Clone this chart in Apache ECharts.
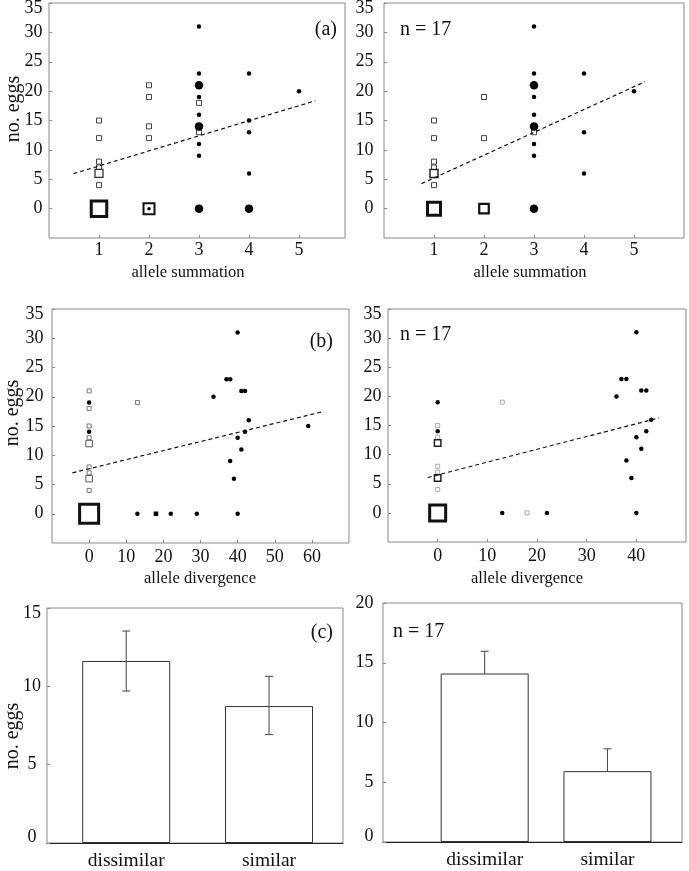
<!DOCTYPE html>
<html><head><meta charset="utf-8">
<script src="https://cdn.jsdelivr.net/npm/echarts@6/dist/echarts.min.js"></script>
<style>html,body{margin:0;padding:0;background:#fff}#c{width:689px;height:871px}</style>
</head><body><div id="c"></div>
<script>
// ---------- (a) left : allele summation, all females ----------
const aL_sqSmall = [[1,15],[1,12],[1,8],[1,7],[1,4],[2,21],[2,19],[2,14],[2,12],[3,18],[3,13]];
const aL_sqMed   = [[1,6]];
const aL_sqMid   = [[2,0]];
const aL_sqLarge = [[1,0]];
const aL_dotTiny = [[2,0]];
const aL_dotSmall= [[3,31],[3,23],[3,19],[3,16],[3,11],[3,9],[4,23],[4,15],[4,13],[4,6],[5,20]];
const aL_dotLarge= [[3,21],[3,14],[3,0],[4,0]];
const aL_fit     = [[0.49,5.95],[5.33,18.37]];
// ---------- (a) right : n = 17 ----------
const aR_sqSmall = [[1,15],[1,12],[1,8],[1,7],[1,4],[2,19],[2,12],[3,13]];
const aR_sqMed   = [[1,6]];
const aR_sqMid   = [[2,0]];
const aR_sqLarge = [[1,0]];
const aR_dotSmall= [[3,31],[3,23],[3,19],[3,16],[3,11],[3,9],[4,23],[4,13],[4,6],[5,20]];
const aR_dotLarge= [[3,21],[3,14],[3,0]];
const aR_fit     = [[0.75,4.25],[5.22,21.6]];
// ---------- (b) left : allele divergence, all females ----------
const bL_sqSmall = [[0,21],[0,18],[0,15],[0,13],[0,8],[0,7],[0,4],[13,19]];
const bL_sqMed   = [[0,12],[0,6]];
const bL_sqLarge = [[0,0]];
const bL_sqFilled= [[18,0]];
const bL_dotSmall= [[0,19],[0,14],[13,0],[22,0],[29,0],[40,0],[33.5,20],[37,23],[38,23],[40,31],[41,21],[42,21],[43,16],[42,14],[40,13],[41,11],[38,9],[39,6],[59,15]];
const bL_fit     = [[-4.5,7.0],[63,17.46]];
// ---------- (b) right : n = 17 ----------
const bR_sqSmall = [[0,15],[0,13],[0,8],[0,7],[0,4],[13,19],[18,0]];
const bR_sqMed   = [[0,12],[0,6]];
const bR_sqLarge = [[0,0]];
const bR_dotSmall= [[0,19],[0,14],[13,0],[22,0],[36,20],[37,23],[38,23],[40,31],[41,21],[42,21],[43,16],[42,14],[40,13],[41,11],[38,9],[39,6],[40,0]];
const bR_fit     = [[-2,6.07],[44.5,16.3]];
// ---------- (c) bars ----------
const categories = ['dissimilar','similar'];
const cL_mean = [11.62, 8.74];
const cL_lo   = [9.70, 6.92];
const cL_hi   = [13.53, 10.64];
const cR_mean = [14.1, 5.93];
const cR_lo   = [12.24, 4.06];
const cR_hi   = [15.96, 7.8];
// tick labels
const yTicksEggs = [0,5,10,15,20,25,30,35];
const xTicksSum  = [1,2,3,4,5];
const xTicksDivL = [0,10,20,30,40,50,60];
const xTicksDivR = [0,10,20,30,40];
const yTicksCL   = [0,5,10,15];
const yTicksCR   = [0,5,10,15,20];

const FF = 'Liberation Serif';
const chart = echarts.init(document.getElementById('c'), null, {renderer:'canvas'});

const grids = [
  {left:49, top:3, width:296, height:235},
  {left:384, top:3, width:300, height:235},
  {left:52, top:309, width:297, height:234},
  {left:388, top:309, width:298, height:233},
  {left:47, top:608, width:296, height:235},
  {left:383, top:603, width:299, height:239}
].map(g => Object.assign({show:true, borderColor:'#8a8a8a', borderWidth:1, backgroundColor:'transparent', outerBoundsMode:'none', containLabel:false}, g));

function richFmt(shifts){
  return v => {
    const s = shifts[v];
    if (!s) return String(v);
    return '{' + (s > 0 ? 'dn' : 'up') + '|' + v + '}';
  };
}
function yAx(idx, min, max, vals, margin, shifts, align, fs){
  fs = fs || 18;
  const base = {fontFamily:FF, fontSize:fs, color:'#111'};
  return {gridIndex:idx, type:'value', min, max,
    axisLine:{show:false, onZero:false}, splitLine:{show:false},
    axisTick:{show:true, inside:true, length:3, lineStyle:{color:'#888'}, customValues:vals},
    axisLabel:Object.assign({customValues:vals, margin, align:align||'right', formatter:richFmt(shifts||{}),
      rich:{dn:Object.assign({padding:[11,0,0,0]},base), up:Object.assign({padding:[0,0,11,0]},base)}}, base)
  };
}
function xAx(idx, min, max, vals, margin, opts){
  opts = opts || {};
  return {gridIndex:idx, type:'value', min, max,
    axisLine:opts.line ? {show:true, onZero:false, lineStyle:{color:'#222', width:1.2}} : {show:false, onZero:false},
    splitLine:{show:false},
    axisTick:opts.noTick ? {show:false} : {show:true, inside:true, length:3, lineStyle:{color:'#888'}, customValues:vals},
    axisLabel:{customValues:vals, margin, fontFamily:FF, fontSize:opts.fs||18, color:'#111',
      formatter: opts.names ? (v => opts.names[Math.round(v)-1] || '') : (v => String(v))}
  };
}

const xAxis = [
  xAx(0, 0, 5.92, xTicksSum, 3),
  xAx(1, 0, 6, xTicksSum, 3),
  xAx(2, -10, 70, xTicksDivL, 5),
  xAx(3, -10, 50, xTicksDivR, 5),
  xAx(4, 0.4454, 2.518, [1,2], 8, {line:true, noTick:true, names:categories, fs:19.5}),
  xAx(5, 0.172, 2.607, [1,2], 8, {line:true, noTick:true, names:categories, fs:19.5})
];
const yAxis = [
  yAx(0, -5, 35, yTicksEggs, 6.5, {35:1}),
  yAx(1, -5, 35, yTicksEggs, 10.5, {35:1}),
  yAx(2, -5, 35, yTicksEggs, 8.5, {35:1}),
  yAx(3, -5, 35, yTicksEggs, 6.5, {35:1}),
  yAx(4, 0, 15, yTicksCL, 15, {15:1, 0:-1}, 'center'),
  yAx(5, 0, 20, yTicksCR, 9.5, {0:-1})
];

function sq(idx, data, size, bw, col, z){
  return {type:'scatter', xAxisIndex:idx, yAxisIndex:idx, data, symbol:'rect', symbolSize:size, silent:true, z:z||3,
    itemStyle:{color:'#fff', borderColor:col, borderWidth:bw, opacity:1}, emphasis:{disabled:true}};
}
function filled(idx, data, size, symbol, z){
  return {type:'scatter', xAxisIndex:idx, yAxisIndex:idx, data, symbol:symbol||'circle', symbolSize:size, silent:true, z:z||4,
    itemStyle:{color:'#000', borderWidth:0, opacity:1}, emphasis:{disabled:true}};
}
function fit(idx, data){
  return {type:'line', xAxisIndex:idx, yAxisIndex:idx, data, symbol:'none', silent:true, z:5,
    lineStyle:{color:'#111', width:1.2, type:[4,3]}};
}
function bars(idx, means, z){
  return {type:'bar', xAxisIndex:idx, yAxisIndex:idx, silent:true, z, barWidth:88,
    data: means.map((m,i)=>[i+1, m]),
    itemStyle:{color:'#fff', borderColor:'#333', borderWidth:1}};
}
function errs(idx, lo, hi, z){
  return {type:'custom', xAxisIndex:idx, yAxisIndex:idx, silent:true, z,
    data: lo.map((l,i)=>[i+1, l, hi[i]]),
    encode:{x:0, y:[1,2]},
    renderItem(params, api){
      const x = api.value(0);
      const p1 = api.coord([x, api.value(1)]);
      const p2 = api.coord([x, api.value(2)]);
      const w = 4, st = {stroke:'#444', lineWidth:1};
      return {type:'group', children:[
        {type:'line', shape:{x1:p1[0], y1:p1[1], x2:p2[0], y2:p2[1]}, style:st},
        {type:'line', shape:{x1:p1[0]-w, y1:p1[1], x2:p1[0]+w, y2:p1[1]}, style:st},
        {type:'line', shape:{x1:p2[0]-w, y1:p2[1], x2:p2[0]+w, y2:p2[1]}, style:st}
      ]};
    }};
}

const series = [
  // (a) left
  sq(0, aL_sqSmall, 5, 1, '#444'),
  sq(0, aL_sqMed, 8, 1.3, '#333'),
  sq(0, aL_sqMid, 11, 2, '#111'),
  sq(0, aL_sqLarge, 15.5, 3, '#111'),
  filled(0, aL_dotTiny, 3.5),
  filled(0, aL_dotSmall, 4.5),
  filled(0, aL_dotLarge, 8.5),
  fit(0, aL_fit),
  // (a) right
  sq(1, aR_sqSmall, 5, 1, '#444'),
  sq(1, aR_sqMed, 8, 1.5, '#222'),
  sq(1, aR_sqMid, 9.5, 2.2, '#111'),
  sq(1, aR_sqLarge, 13, 3, '#111'),
  filled(1, aR_dotSmall, 4.5),
  filled(1, aR_dotLarge, 8.5),
  fit(1, aR_fit),
  // (b) left
  sq(2, bL_sqSmall, 4, 1, '#777'),
  sq(2, bL_sqMed, 6.5, 1, '#555'),
  sq(2, bL_sqLarge, 19, 3, '#111'),
  filled(2, bL_sqFilled, 4.5, 'rect'),
  filled(2, bL_dotSmall, 4.5),
  fit(2, bL_fit),
  // (b) right
  sq(3, bR_sqSmall, 4, 1, '#aaa'),
  sq(3, bR_sqMed, 6.5, 1.5, '#222'),
  sq(3, bR_sqLarge, 16, 3, '#111'),
  filled(3, bR_dotSmall, 4.5),
  fit(3, bR_fit),
  // (c) left: error bars over bars
  bars(4, cL_mean, 2),
  errs(4, cL_lo, cL_hi, 3),
  // (c) right: bars over error bars
  errs(5, cR_lo, cR_hi, 2),
  bars(5, cR_mean, 3)
];

function txt(x, y, text, size, align, rot){
  return {type:'text', x, y, rotation:rot||0, silent:true, z:10,
    style:{text, fontFamily:FF, fontSize:size, fill:'#111', textAlign:align||'center', textVerticalAlign:'middle'}};
}
const graphic = [
  txt(14, 109, 'no. eggs', 20, 'center', Math.PI/2),
  txt(13, 413, 'no. eggs', 20, 'center', Math.PI/2),
  txt(13, 736, 'no. eggs', 20, 'center', Math.PI/2),
  txt(188, 273, 'allele summation', 16.5),
  txt(530, 273, 'allele summation', 16.5),
  txt(200, 579, 'allele divergence', 16.5),
  txt(527, 579, 'allele divergence', 16.5),
  txt(337, 30, '(a)', 20, 'right'),
  txt(333, 342, '(b)', 20, 'right'),
  txt(333, 633, '(c)', 20, 'right'),
  txt(400, 30, 'n = 17', 20, 'left'),
  txt(400, 335, 'n = 17', 20, 'left'),
  txt(393, 632, 'n = 17', 20, 'left')
];

chart.setOption({animation:false, backgroundColor:'#fff', grid:grids, xAxis, yAxis, series, graphic});
</script></body></html>
